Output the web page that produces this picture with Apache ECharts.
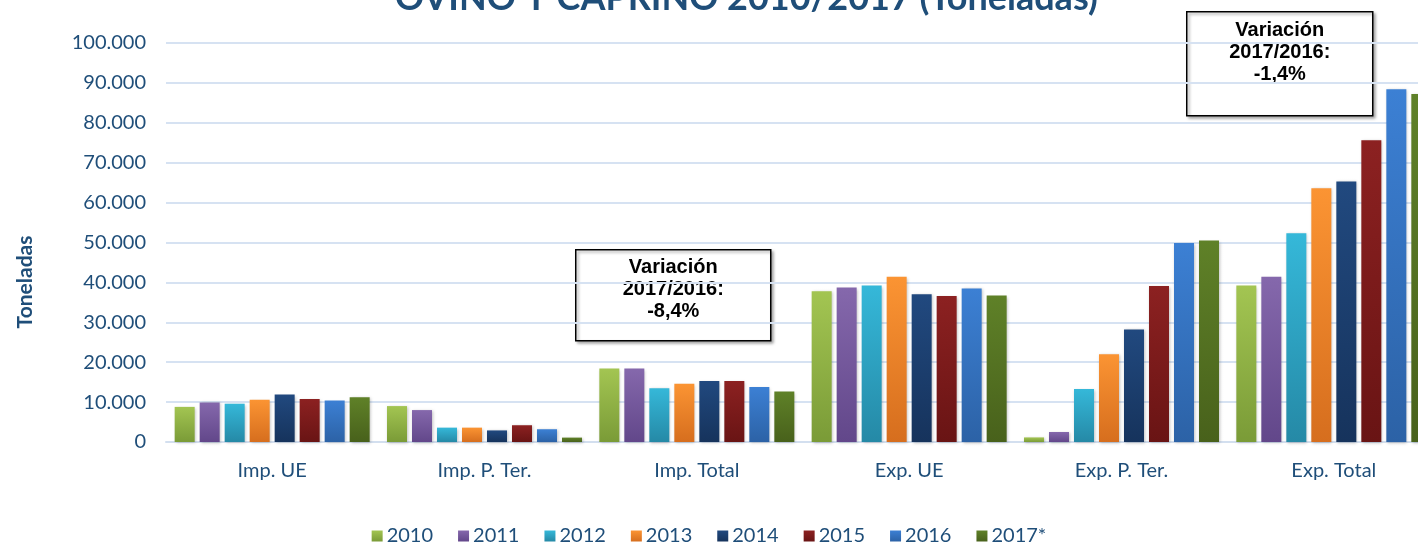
<!DOCTYPE html>
<html>
<head>
<meta charset="utf-8">
<title>Ovino y caprino 2010/2017</title>
<script src="https://cdn.jsdelivr.net/npm/echarts@6/dist/echarts.min.js"></script>
<style>
  html, body { margin: 0; padding: 0; background: #ffffff; overflow: hidden; }
  #chart { width: 1418px; height: 544px; }
</style>
</head>
<body>
<div id="chart"></div>
<script>
// Comercio exterior de ovino y caprino, toneladas por año
const categories = ['Imp. UE', 'Imp. P. Ter.', 'Imp. Total', 'Exp. UE', 'Exp. P. Ter.', 'Exp. Total'];
const years = ['2010', '2011', '2012', '2013', '2014', '2015', '2016', '2017*'];

const v2010 = [8800, 9000, 18400, 37800, 1150, 39200];
const v2011 = [9900, 8000, 18400, 38700, 2500, 41400];
const v2012 = [9600, 3600, 13500, 39200, 13300, 52300];
const v2013 = [10600, 3600, 14600, 41400, 22000, 63600];
const v2014 = [11900, 2900, 15300, 37000, 28200, 65300];
const v2015 = [10800, 4200, 15300, 36600, 39100, 75600];
const v2016 = [10400, 3200, 13800, 38500, 49900, 88400];
const v2017 = [11200, 1100, 12640, 36700, 50500, 87200];

const yTicks = [0, 10000, 20000, 30000, 40000, 50000, 60000, 70000, 80000, 90000, 100000];

const seriesValues = [v2010, v2011, v2012, v2013, v2014, v2015, v2016, v2017];

// top / bottom shades of each year's bar gradient
const palette = [
  ['#A3C552', '#7A9B37'],
  ['#8568AC', '#62478A'],
  ['#35B8D9', '#2589A6'],
  ['#FB9433', '#D66E1E'],
  ['#21497F', '#16335C'],
  ['#8C2121', '#691414'],
  ['#3C80D4', '#2C62A6'],
  ['#5F8128', '#48611B']
];

const navy = '#1F4E79';
const fontFam = 'Lato, "Open Sans", sans-serif';

function thousands(n) {
  return String(n).replace(/\B(?=(\d{3})+(?!\d))/g, '.');
}

// variation 2017 vs 2016 on the same category
function varLines(idx) {
  const pct = (v2017[idx] / v2016[idx] - 1) * 100;
  return ['Variación', '2017/2016:', pct.toFixed(1).replace('.', ',') + '%'];
}

const chart = echarts.init(document.getElementById('chart'), null, { renderer: 'canvas' });

const series = years.map((y, i) => ({
  name: y,
  type: 'bar',
  data: seriesValues[i],
  barWidth: 20,
  barGap: '25%',
  itemStyle: {
    color: new echarts.graphic.LinearGradient(0, 0, 0, 1, [
      { offset: 0, color: palette[i][0] },
      { offset: 1, color: palette[i][1] }
    ]),
    shadowColor: 'rgba(0,0,0,0.25)',
    shadowBlur: 3,
    shadowOffsetX: 1,
    shadowOffsetY: 1
  },
  emphasis: { disabled: true }
}));

function noteBox(x, y, w, h, firstLineY, lines) {
  const texts = lines.map((t, k) => ({
    type: 'text',
    x: w / 2,
    y: firstLineY + k * 22,
    style: {
      text: t,
      align: 'center',
      verticalAlign: 'middle',
      font: 'bold 20px "Liberation Sans", Arial, sans-serif',
      fill: '#000000'
    }
  }));
  return {
    type: 'group',
    left: x,
    top: y,
    children: [
      {
        type: 'rect',
        shape: { x: 0, y: 0, width: w, height: h },
        style: {
          fill: '#ffffff',
          stroke: '#000000',
          lineWidth: 1.5,
          shadowColor: 'rgba(0,0,0,0.35)',
          shadowBlur: 3,
          shadowOffsetX: 2,
          shadowOffsetY: 2
        }
      }
    ].concat(texts)
  };
}

chart.setOption({
  animation: false,
  backgroundColor: '#ffffff',
  // the plot runs past the right edge of the canvas
  grid: { left: 166, width: 1274, top: 43, height: 399, containLabel: false, outerBoundsMode: 'none' },
  title: {
    text: 'OVINO Y CAPRINO 2010/2017 (Toneladas)',
    left: 390,
    top: -25,
    textStyle: { color: navy, fontFamily: fontFam, fontWeight: 'bold', fontSize: 36 }
  },
  legend: {
    data: years,
    left: 'center',
    top: 521,
    itemWidth: 11,
    itemHeight: 11,
    itemGap: 25,
    icon: 'rect',
    textStyle: { color: navy, fontFamily: fontFam, fontSize: 20, padding: [0, 0, 0, -1] }
  },
  xAxis: {
    type: 'category',
    data: categories,
    axisTick: { show: false },
    axisLine: { lineStyle: { color: '#D3DFEF', width: 2 } },
    axisLabel: { color: navy, fontFamily: fontFam, fontSize: 20, margin: 19 }
  },
  yAxis: {
    type: 'value',
    min: yTicks[0],
    max: yTicks[yTicks.length - 1],
    interval: yTicks[1] - yTicks[0],
    axisLine: { show: false },
    axisTick: { show: false },
    splitLine: { lineStyle: { color: '#D6E2F2', width: 2 } },
    axisLabel: {
      color: navy,
      fontFamily: fontFam,
      fontSize: 20,
      margin: 20,
      formatter: v => thousands(v)
    }
  },
  graphic: [
    {
      type: 'text',
      x: 25,
      y: 282,
      rotation: Math.PI / 2,
      style: {
        text: 'Toneladas',
        align: 'center',
        verticalAlign: 'middle',
        font: 'bold 21px ' + fontFam,
        fill: navy
      }
    },
    noteBox(575, 249, 195, 91, 18, varLines(2)),
    noteBox(1186, 11, 186, 104, 19, varLines(5))
  ],
  series: series
});
</script>
</body>
</html>
